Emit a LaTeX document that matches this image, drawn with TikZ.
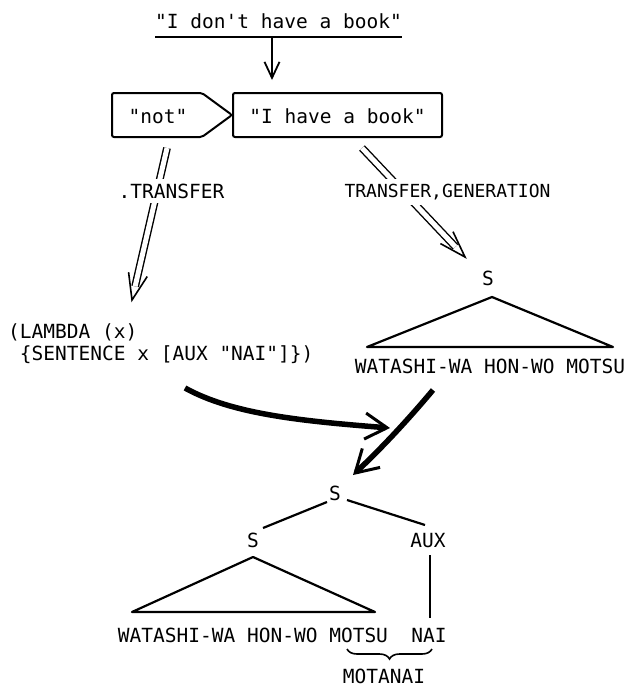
\documentclass[tikz,border=0pt]{standalone}
\usepackage{fontspec}
\setmonofont{DejaVu Sans Mono}
\usetikzlibrary{arrows.meta,calc,decorations.pathreplacing}
\begin{document}
\begin{tikzpicture}[x=1pt,y=-1pt,
  txt/.style={font=\ttfamily\fontsize{19.5pt}{22pt}\selectfont, inner sep=0pt, anchor=base},
  smalltxt/.style={font=\ttfamily\fontsize{18pt}{21pt}\selectfont, inner sep=0pt, anchor=base},
  boxline/.style={line width=2pt, rounded corners=2pt},
  treeline/.style={line width=2.2pt},
  thinarrow/.style={line width=1.8pt, -{Straight Barb[length=16pt,width=15pt,line width=1.8pt]}},
  dblshaft/.style={double, double distance=5pt, line width=1.4pt, shorten >=14pt},
  dblhead/.style={line width=1.6pt, line join=miter},
  fatarrow/.style={line width=5.5pt, -{Straight Barb[length=22pt,width=26pt,line width=3pt]}},
  lbl/.style={fill=white, inner xsep=1pt, inner ysep=5pt}
]
\useasboundingbox (0,0) rectangle (626,688);

% top sentence
\node[txt] (top) at (278.5,28) {"I don't have a book"};
\coordinate (ul1) at (155,37);
\coordinate (ul2) at (402,37);
\draw[line width=1.8pt] (ul1) -- (ul2);
\coordinate (a1) at (272,37);
\coordinate (a2) at (272,80);
\draw[thinarrow] (a1) -- (a2);

% boxes
\node[txt] (nottxt) at (158,123) {"not"};
\draw[boxline] (112,93) -- (202,93) -- (232,115) -- (202,137) -- (112,137) -- cycle;
\node[draw, boxline, minimum width=209pt, minimum height=44pt] (have) at (337.5,115) {};
\node[txt] (havetxt) at (337.5,123) {"I have a book"};

% left double arrow
\coordinate (ls) at (167,148);
\coordinate (lt) at (132,300);
\draw[dblshaft] (ls) -- (lt);
\draw[dblhead] ($(lt)!28pt!20:(ls)$) -- (lt) -- ($(lt)!28pt!-20:(ls)$);
\node[txt, lbl] (tr1) at (171.5,198) {.TRANSFER};

% right double arrow
\coordinate (rs) at (362,148);
\coordinate (rt) at (465,257);
\draw[dblshaft] (rs) -- (rt);
\draw[dblhead] ($(rt)!28pt!18:(rs)$) -- (rt) -- ($(rt)!28pt!-18:(rs)$);
\node[smalltxt, lbl] (tr2) at (447.5,197) {TRANSFER,GENERATION};

% lambda expression
\node[txt, anchor=base west] (lam1) at (8,338) {(LAMBDA (x)};
\node[txt, anchor=base west] (lam2) at (8,360) {\hphantom{(}\{SENTENCE x [AUX "NAI"]\})};

% right tree
\node[txt] (rS) at (488,285) {S};
\coordinate (rap) at (492,297);
\coordinate (rbl) at (367,347);
\coordinate (rbr) at (613,347);
\draw[treeline, line join=round] (rbl) -- (rap) -- (rbr) -- cycle;
\node[txt] (rwords) at (490,373) {WATASHI-WA HON-WO MOTSU};

% thick arrows
\coordinate (f1s) at (185,388);
\coordinate (f1t) at (390,428);
\draw[fatarrow] (f1s) .. controls (232,414) and (300,421) .. (f1t);
\coordinate (f2s) at (433,390);
\coordinate (f2t) at (353,475);
\draw[fatarrow] (f2s) .. controls (412,415) and (385,445) .. (f2t);

% bottom tree
\node[txt] (bS) at (335,500) {S};
\node[txt] (bSl) at (253,547) {S};
\node[txt] (aux) at (428,547) {AUX};
\coordinate (e1a) at (327,502);
\coordinate (e1b) at (263,528);
\coordinate (e2a) at (347,500);
\coordinate (e2b) at (425,525);
\draw[treeline] (e1a) -- (e1b);
\draw[treeline] (e2a) -- (e2b);
\coordinate (bap) at (253,557);
\coordinate (bbl) at (132,612);
\coordinate (bbr) at (375,612);
\draw[treeline, line join=round] (bbl) -- (bap) -- (bbr) -- cycle;
\coordinate (n1) at (430,555);
\coordinate (n2) at (430,618);
\draw[treeline] (n1) -- (n2);
\node[txt] (bwords) at (253,642) {WATASHI-WA HON-WO MOTSU};
\node[txt] (nai) at (429,642) {NAI};
\coordinate (br1) at (347,649);
\coordinate (br2) at (432,649);
\draw[line width=1.6pt, decorate, decoration={brace, mirror, amplitude=10pt}] (br1) -- (br2);
\node[txt] (motanai) at (384,683) {MOTANAI};
\end{tikzpicture}
\end{document}
